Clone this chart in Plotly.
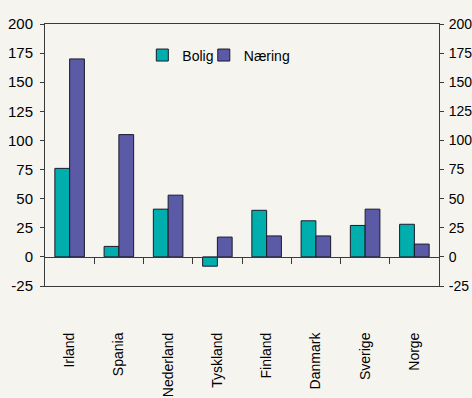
import plotly.graph_objects as go

countries = ["Irland", "Spania", "Nederland", "Tyskland", "Finland", "Danmark", "Sverige", "Norge"]
bolig = [76, 9, 41, -8, 40, 31, 27, 28]
naering = [170, 105, 53, 17, 18, 18, 41, 11]
y_ticks = [-25, 0, 25, 50, 75, 100, 125, 150, 175, 200]
y_ticktext = ["-25", "0", "25", "50", "75", "100", "125", "150", "175", "200"]

FONT = "Liberation Sans, Arial, sans-serif"
BG = "#F6F4EF"
AX = "#3a3a3a"

fig = go.Figure()
fig.add_trace(go.Bar(name="Bolig", x=countries, y=bolig, legend="legend",
                     marker=dict(color="#00AEAD", line=dict(color="#1a1a2a", width=1))))
fig.add_trace(go.Bar(name="Næring", x=countries, y=naering, legend="legend2",
                     marker=dict(color="#5A5AA6", line=dict(color="#1a1a2a", width=1))))
fig.add_trace(go.Scatter(x=[countries[0]], y=[0], yaxis="y2", mode="markers", marker=dict(opacity=0),
                         showlegend=False, hoverinfo="skip"))
fig.add_trace(go.Scatter(x=[0], y=[0], xaxis="x2", mode="markers", marker=dict(opacity=0),
                         showlegend=False, hoverinfo="skip"))

yr = [-25, 200]
zero_pos = (0 - yr[0]) / (yr[1] - yr[0])

leg_common = dict(orientation="h", yanchor="middle", xanchor="left", bgcolor="rgba(0,0,0,0)",
                  font=dict(size=14), itemwidth=30)

fig.update_layout(
    width=472, height=398,
    margin=dict(l=45, r=33, t=24, b=112),
    paper_bgcolor=BG, plot_bgcolor=BG,
    barmode="group", bargap=0.4, bargroupgap=0,
    font=dict(family=FONT, size=14, color="#000"),
    legend=dict(x=0.247, y=0.88, **leg_common),
    legend2=dict(x=0.403, y=0.88, **leg_common),
    xaxis=dict(type="category", range=[-0.5, 7.5], showline=True, linecolor=AX, linewidth=1, mirror=True,
               ticks="", tickangle=-90, ticklabelstandoff=40, showgrid=False, zeroline=False,
               automargin=False, tickfont=dict(size=14)),
    xaxis2=dict(overlaying="x", anchor="free", position=zero_pos, side="bottom", range=[-0.5, 7.5],
                tickmode="array", tickvals=[i + 0.5 for i in range(len(countries) - 1)], showticklabels=False,
                ticks="outside", ticklen=6, tickcolor=AX, showline=True, linecolor=AX, linewidth=1,
                showgrid=False, zeroline=False, automargin=False),
    yaxis=dict(range=yr, tickmode="array", tickvals=y_ticks, ticktext=y_ticktext, ticks="outside", ticklen=4,
               tickcolor=AX, showline=True, linecolor=AX, linewidth=1, showgrid=False, zeroline=False,
               ticklabelstandoff=4, automargin=False, tickfont=dict(size=15)),
    yaxis2=dict(range=yr, overlaying="y", side="right", tickmode="array", tickvals=y_ticks, ticktext=y_ticktext,
                ticks="outside", ticklen=4, tickcolor=AX, showline=True, linecolor=AX, linewidth=1,
                showgrid=False, zeroline=False, ticklabelstandoff=2, automargin=False, tickfont=dict(size=14)),
)

fig.write_html("out.html")
